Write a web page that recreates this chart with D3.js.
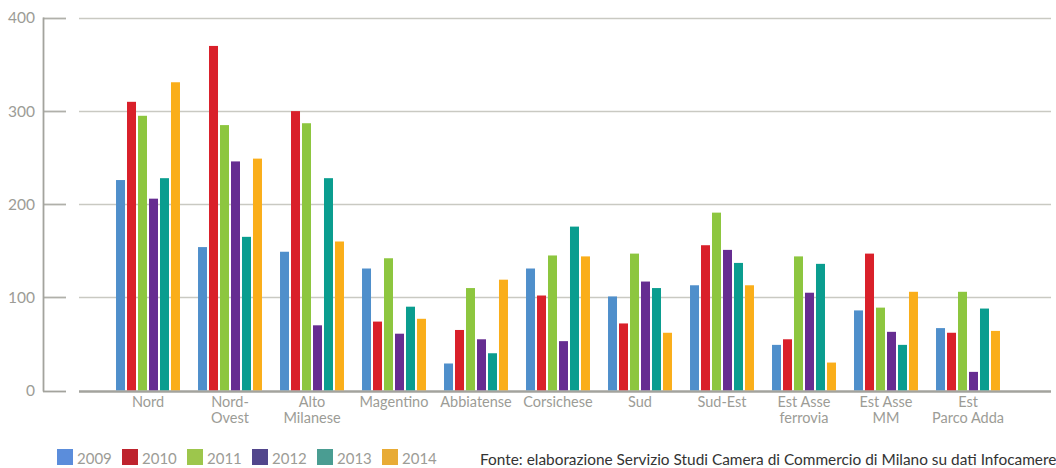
<!DOCTYPE html>
<html>
<head>
<meta charset="utf-8">
<script src="https://cdn.jsdelivr.net/npm/d3@7"></script>
<style>
  html, body { margin: 0; padding: 0; background: #ffffff; }
  svg { display: block; font-family: "Source Sans Pro", Lato, "Noto Sans", sans-serif; }
</style>
</head>
<body>
<svg id="chart" width="1056" height="468"></svg>
<script>
// Zone labels (line breaks with "\n")
const zones = ["Nord", "Nord-\nOvest", "Alto\nMilanese", "Magentino", "Abbiatense", "Corsichese",
               "Sud", "Sud-Est", "Est Asse\nferrovia", "Est Asse\nMM", "Est\nParco Adda"];
const years = ["2009", "2010", "2011", "2012", "2013", "2014"];

const v2009 = [226, 154, 149, 131, 29, 131, 101, 113, 49, 86, 67];
const v2010 = [310, 370, 300, 74, 65, 102, 72, 156, 55, 147, 62];
const v2011 = [295, 285, 287, 142, 110, 145, 147, 191, 144, 89, 106];
const v2012 = [206, 246, 70, 61, 55, 53, 117, 151, 105, 63, 20];
const v2013 = [228, 165, 228, 90, 40, 176, 110, 137, 136, 49, 88];
const v2014 = [331, 249, 160, 77, 119, 144, 62, 113, 30, 106, 64];

const yTicks = [0, 100, 200, 300, 400];
const source = "Fonte: elaborazione Servizio Studi Camera di Commercio di Milano su dati Infocamere";

const barColors = ["#4f8fcb", "#d9202a", "#8dc63f", "#662d91", "#0a9d8f", "#faae1a"];
const legendColors = ["#5b8ddb", "#be232d", "#9dc64c", "#52468c", "#4a9d92", "#e8ab35"];

const series = [v2009, v2010, v2011, v2012, v2013, v2014];

const svg = d3.select("#chart");

const x0 = d3.scaleBand().domain(zones).range([107, 1009]).paddingInner(0.22).paddingOuter(0.11);
const x1 = d3.scaleBand().domain(years).range([0, x0.bandwidth() + 2]).padding(0);
const y = d3.scaleLinear().domain([0, 400]).range([390.5, 18]);

// Gridlines: short tick segment next to the axis, then the long line
const grid = svg.append("g");
yTicks.forEach(t => {
  const yy = Math.round(y(t)) + 0.5;
  const col = t === 0 ? "#a3a39d" : "#c9c9c2";
  const w = t === 0 ? 2.2 : 1.6;
  grid.append("line").attr("x1", 43).attr("x2", 66).attr("y1", yy).attr("y2", yy)
    .attr("stroke", t === 0 ? "#a3a39d" : "#b0b0aa").attr("stroke-width", 1.8);
  grid.append("line").attr("x1", 79).attr("x2", 1051).attr("y1", yy).attr("y2", yy)
    .attr("stroke", col).attr("stroke-width", w);
});

// Vertical axis
svg.append("line").attr("x1", 43.5).attr("x2", 43.5).attr("y1", y(400) - 0.5).attr("y2", y(0) + 1)
  .attr("stroke", "#a3a39d").attr("stroke-width", 1.8);

// Y tick labels
svg.append("g").selectAll("text").data(yTicks).join("text")
  .attr("x", 35).attr("y", d => y(d)).attr("dy", "0.35em")
  .attr("text-anchor", "end").attr("fill", "#9c9c96").attr("font-size", 15.5)
  .text(d => d);

// Bars
const groups = svg.append("g").selectAll("g").data(zones).join("g")
  .attr("transform", d => `translate(${x0(d)},0)`);
groups.selectAll("rect")
  .data((d, i) => years.map((yr, k) => ({ yr, k, v: series[k][i] })))
  .join("rect")
  .attr("x", d => x1(d.yr))
  .attr("width", x1.bandwidth() - 2)
  .attr("y", d => y(d.v))
  .attr("height", d => y(0) - y(d.v))
  .attr("fill", d => barColors[d.k]);

// Redraw the baseline on top of the bars
svg.append("line").attr("x1", 79).attr("x2", 1051).attr("y1", Math.round(y(0)) + 0.5).attr("y2", Math.round(y(0)) + 0.5)
  .attr("stroke", "#a3a39d").attr("stroke-width", 2.2);

// Category labels
const xl = svg.append("g");
zones.forEach(z => {
  const t = xl.append("text").attr("x", x0(z) + x0.bandwidth() / 2).attr("y", 407)
    .attr("text-anchor", "middle").attr("fill", "#9c9c96").attr("font-size", 14.5);
  z.split("\n").forEach((line, i) => {
    t.append("tspan").attr("x", x0(z) + x0.bandwidth() / 2).attr("dy", i === 0 ? 0 : 16).text(line);
  });
});

// Legend
const lg = svg.append("g").attr("transform", "translate(57,449)");
years.forEach((yr, k) => {
  const g = lg.append("g").attr("transform", `translate(${k * 65},0)`);
  g.append("rect").attr("width", 16).attr("height", 16).attr("fill", legendColors[k]);
  g.append("text").attr("x", 20).attr("y", 15).attr("fill", "#9c9c96").attr("font-size", 15).text(yr);
});

// Source note
svg.append("text").attr("x", 480).attr("y", 465).attr("fill", "#333333").attr("font-size", 15.4)
  .text(source);
</script>
</body>
</html>
